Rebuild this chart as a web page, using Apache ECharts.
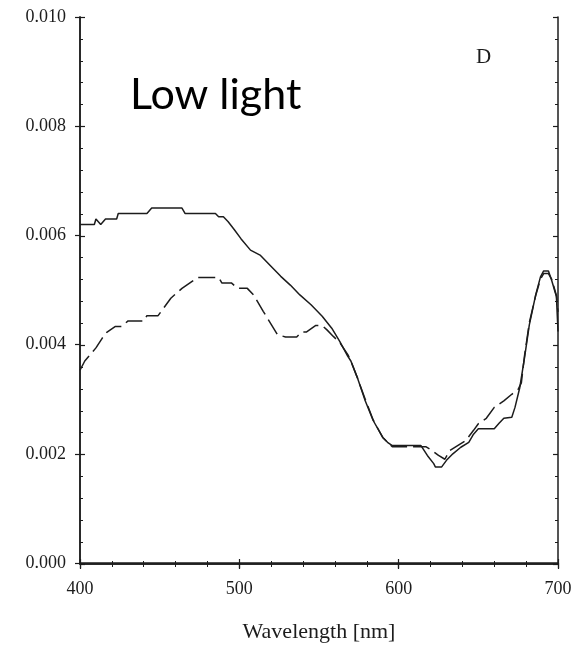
<!DOCTYPE html>
<html>
<head>
<meta charset="utf-8">
<script src="https://cdn.jsdelivr.net/npm/echarts@6/dist/echarts.min.js"></script>
<style>
  html, body { margin: 0; padding: 0; background: #fff; }
  #chart { width: 578px; height: 648px; }
</style>
</head>
<body>
<div id="chart"></div>
<script>
// wavelength (nm) and absorption values
var solidX = [400, 409, 410, 413, 416, 423, 424, 442, 445, 464, 466, 485, 487, 490, 493, 497, 501, 507, 513, 520,
              526, 532, 538, 545, 552, 558, 563, 568, 570, 574, 579, 584, 590, 593, 596, 614, 618, 622, 623, 627,
              630, 634, 639, 644, 647, 650, 660, 663, 666, 671, 673, 676, 679, 682, 686, 689, 691, 694, 696, 699, 700];
var solidY = [0.0062, 0.0062, 0.0063, 0.0062, 0.0063, 0.0063, 0.0064, 0.0064, 0.0065, 0.0065,
              0.0064, 0.0064, 0.00634, 0.00634, 0.00625, 0.0061, 0.00594, 0.00573, 0.00564, 0.00543,
              0.00525, 0.00509, 0.00491, 0.00473, 0.00452, 0.0043, 0.00406, 0.00379, 0.0037, 0.0034,
              0.00297, 0.00261, 0.0023, 0.00221, 0.00215, 0.00215, 0.00197, 0.00182, 0.00176, 0.00176,
              0.00188, 0.002, 0.00212, 0.00221, 0.00236, 0.00246, 0.00246, 0.00256, 0.00265, 0.00267,
              0.00285, 0.00321, 0.00376, 0.00436, 0.00491, 0.00524, 0.00535, 0.00535, 0.00518, 0.00488, 0.00424];

var dashX = [400, 403, 410, 414, 417, 422, 426, 430, 440, 442, 449, 457, 464, 469, 474, 487, 489, 495, 499, 505,
             509, 515, 524, 529, 536, 539, 542, 548, 552, 555, 559, 563, 568, 570, 574, 579, 584, 590, 593, 596,
             614, 617, 621, 625, 629, 632, 637, 642, 647, 650, 655, 660, 666, 671, 675, 677, 679, 682, 686, 689,
             691, 694, 696, 699, 700];
var dashY = [0.00353, 0.0037, 0.00394, 0.00412, 0.00423, 0.00433, 0.00433, 0.00443, 0.00443, 0.00453,
             0.00453, 0.00485, 0.00503, 0.00513, 0.00523, 0.00523, 0.00513, 0.00513, 0.00503, 0.00503,
             0.00491, 0.00461, 0.00418, 0.00414, 0.00414, 0.00423, 0.00423, 0.00435, 0.00435, 0.00427,
             0.00415, 0.00404, 0.00382, 0.0037, 0.0034, 0.003, 0.00262, 0.0023, 0.00221, 0.00213,
             0.00213, 0.00213, 0.00206, 0.00197, 0.0019, 0.00206, 0.00215, 0.00224, 0.00243, 0.00255,
             0.00265, 0.00285, 0.00297, 0.00309, 0.00318, 0.0033, 0.0038, 0.0044, 0.0049, 0.0052,
             0.0053, 0.0053, 0.0052, 0.0049, 0.0046];

var xRange = [400, 700], xStep = 100;
var yRange = [0, 0.010], yStep = 0.002;

function zip(xs, ys) {
    var res = [];
    for (var i = 0; i < xs.length; i++) {
        res.push([xs[i], ys[i]]);
    }
    return res;
}

var serif = 'Liberation Serif';
var ink = '#1c1c1c';

var chart = echarts.init(document.getElementById('chart'));

// second grid with the same box only carries the inward ticks and the frame
function frameAxis(pos, isX) {
    return {
        type: 'value',
        gridIndex: 1,
        position: pos,
        min: isX ? xRange[0] : yRange[0],
        max: isX ? xRange[1] : yRange[1],
        interval: isX ? xStep : yStep,
        axisLine: { show: true, lineStyle: { color: ink, width: 1.5 } },
        axisTick: { show: true, inside: true, length: 5, lineStyle: { color: ink, width: 1.2 } },
        minorTick: { show: true, splitNumber: 5, length: 3, lineStyle: { color: ink, width: 1 } },
        axisLabel: { show: false },
        splitLine: { show: false }
    };
}

option = {
    backgroundColor: '#fff',
    animation: false,
    grid: [
        { left: 80, right: 20, top: 17, bottom: 84 },
        { left: 80, right: 20, top: 17, bottom: 84 }
    ],
    xAxis: [
        {
            type: 'value',
            gridIndex: 0,
            position: 'bottom',
            min: xRange[0],
            max: xRange[1],
            interval: xStep,
            name: 'Wavelength [nm]',
            nameLocation: 'middle',
            nameGap: 58,
            nameTextStyle: { fontFamily: serif, fontSize: 22, color: ink },
            axisLine: { show: true, lineStyle: { color: ink, width: 1.5 } },
            axisTick: { show: true, inside: false, length: 5, lineStyle: { color: ink, width: 1.2 } },
            axisLabel: { fontFamily: serif, fontSize: 18, color: ink, margin: 17 },
            splitLine: { show: false }
        },
        frameAxis('bottom', true),
        frameAxis('top', true)
    ],
    yAxis: [
        {
            type: 'value',
            gridIndex: 0,
            position: 'left',
            min: yRange[0],
            max: yRange[1],
            interval: yStep,
            axisLine: { show: true, lineStyle: { color: ink, width: 1.5 } },
            axisTick: { show: true, inside: false, length: 5, lineStyle: { color: ink, width: 1.2 } },
            axisLabel: {
                fontFamily: serif, fontSize: 18, color: ink, margin: 14,
                formatter: function (v) { return v.toFixed(3); }
            },
            splitLine: { show: false }
        },
        frameAxis('left', false),
        frameAxis('right', false)
    ],
    graphic: [
        {
            type: 'text',
            left: 130,
            top: 74,
            style: { text: 'Low light', font: '43px Lato', fill: '#000' }
        },
        {
            type: 'text',
            left: 476,
            top: 47,
            style: { text: 'D', font: '21px "Liberation Serif"', fill: ink }
        }
    ],
    series: [
        {
            name: 'solid',
            type: 'line',
            xAxisIndex: 0,
            yAxisIndex: 0,
            data: zip(solidX, solidY),
            showSymbol: false,
            lineStyle: { color: ink, width: 1.5 }
        },
        {
            name: 'dashed',
            type: 'line',
            xAxisIndex: 0,
            yAxisIndex: 0,
            data: zip(dashX, dashY),
            showSymbol: false,
            lineStyle: { color: ink, width: 1.5, type: [17, 6] }
        }
    ]
};
chart.setOption(option);
</script>
</body>
</html>
